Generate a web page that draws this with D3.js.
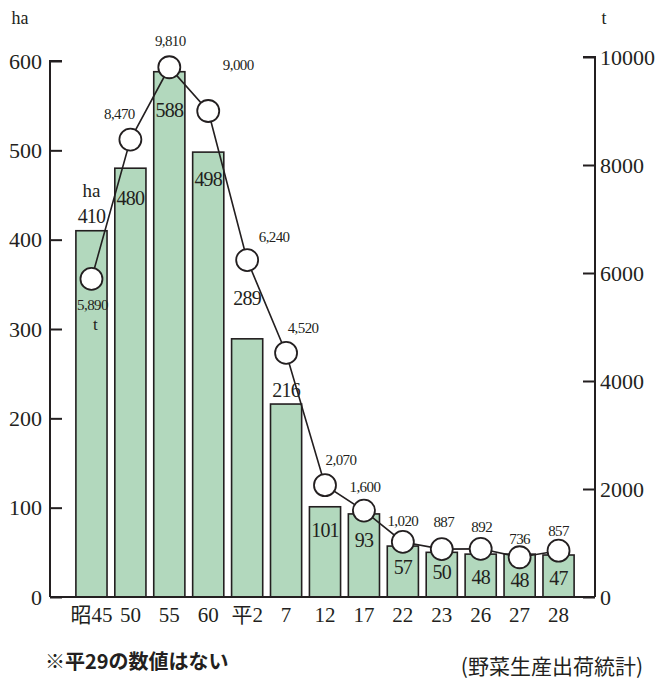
<!DOCTYPE html>
<html><head><meta charset="utf-8">
<script src="https://cdn.jsdelivr.net/npm/d3@7"></script>
<style>
body{margin:0;background:#fff;}
</style></head>
<body>
<script>
// ---- data ----
const categories = ["昭45","50","55","60","平2","7","12","17","22","23","26","27","28"];
const areaHa = [410,480,588,498,289,216,101,93,57,50,48,48,47];
const shipT = [5890,8470,9810,9000,6240,4520,2070,1600,1020,887,892,736,857];
const shipLabels = ["5,890","8,470","9,810","9,000","6,240","4,520","2,070","1,600","1,020","887","892","736","857"];
const leftTicks = [0,100,200,300,400,500,600];
const rightTicks = [0,2000,4000,6000,8000,10000];

// ---- label placement (layout only) ----
const barLabelDy = [-15,30,38,27,-41,-14,23,26,21,20,23,26,23];
const lineLabelDx = [1,-11,1,30,27,17,16,1,0,2,1,0,0];
const lineLabelDy = [26,-26,-27,-46,-23,-25,-25,-24,-21,-27,-22,-19,-20];

const SERIF = "'Liberation Serif','Times New Roman','DejaVu Serif','Noto Sans CJK JP',serif";
const W=661,H=680;
const svg=d3.select("body").append("svg").attr("width",W).attr("height",H)
  .attr("font-family",SERIF).style("font-family",SERIF);
const txt = (sel)=>sel.attr("font-family",SERIF).style("font-family",SERIF).attr("fill","#231f20");

const x=d3.scaleBand().domain(categories).range([72,578]).paddingInner(0.2).paddingOuter(0.1);
const yL=d3.scaleLinear().domain([0,600]).range([597,61]);
const yR=d3.scaleLinear().domain([0,10000]).range([597,57]);

// bars
svg.append("g").selectAll("rect").data(categories).join("rect")
  .attr("x",d=>x(d)).attr("width",x.bandwidth())
  .attr("y",(d,i)=>yL(areaHa[i])).attr("height",(d,i)=>yL(0)-yL(areaHa[i]))
  .attr("fill","#b2d8bd").attr("stroke","#231f20").attr("stroke-width",1.6);

// baseline
svg.append("line").attr("x1",50).attr("x2",595).attr("y1",yL(0)).attr("y2",yL(0))
  .attr("stroke","#231f20").attr("stroke-width",2);

// left axis
const gL=svg.append("g").attr("transform","translate(50,0)")
  .call(d3.axisRight(yL).tickValues(leftTicks).tickSize(12).tickFormat(""));
gL.select(".domain").attr("d",`M0,${yL(0)}V${yL(600)}H12`).attr("stroke","#231f20").attr("stroke-width",2).attr("fill","none");
gL.selectAll(".tick line").attr("stroke","#231f20").attr("stroke-width",2);
txt(svg.append("g").selectAll("text").data(leftTicks).join("text")
  .attr("x",42).attr("y",d=>yL(d)).attr("dy","0.35em").attr("text-anchor","end")
  .style("font-size","22px").text(d=>d));

// right axis
const gR=svg.append("g").attr("transform","translate(595,0)")
  .call(d3.axisLeft(yR).tickValues(rightTicks).tickSize(12).tickFormat(""));
gR.select(".domain").attr("d",`M0,${yR(0)}V${yR(10000)}H-12`).attr("stroke","#231f20").attr("stroke-width",2).attr("fill","none");
gR.selectAll(".tick line").attr("stroke","#231f20").attr("stroke-width",2);
txt(svg.append("g").selectAll("text").data(rightTicks).join("text")
  .attr("x",600).attr("y",d=>yR(d)).attr("dy","0.35em").attr("text-anchor","start")
  .style("font-size","22px").text(d=>d));

// x labels
txt(svg.append("g").selectAll("text").data(categories).join("text")
  .attr("x",d=>x(d)+x.bandwidth()/2).attr("y",615).attr("dy","0.35em").attr("text-anchor","middle")
  .style("font-size","21px").text(d=>d));

// units
txt(svg.append("text").attr("x",20).attr("y",18).attr("dy","0.35em").attr("text-anchor","middle").style("font-size","18px").text("ha"));
txt(svg.append("text").attr("x",604).attr("y",18).attr("dy","0.35em").attr("text-anchor","middle").style("font-size","18px").text("t"));

// bar labels
txt(svg.append("g").selectAll("text").data(areaHa).join("text")
  .attr("x",(d,i)=>x(categories[i])+x.bandwidth()/2)
  .attr("y",(d,i)=>yL(d)+barLabelDy[i]).attr("dy","0.35em").attr("text-anchor","middle")
  .style("font-size","20px").style("letter-spacing","-0.8px").text(d=>d));
txt(svg.append("text").attr("x",x(categories[0])+x.bandwidth()/2).attr("y",190).attr("dy","0.35em")
  .attr("text-anchor","middle").style("font-size","19px").text("ha"));

// line
const cx=(i)=>x(categories[i])+x.bandwidth()/2;
svg.append("path").datum(shipT)
  .attr("d",d3.line().x((d,i)=>cx(i)).y(d=>yR(d)))
  .attr("fill","none").attr("stroke","#231f20").attr("stroke-width",1.6);
svg.append("g").selectAll("circle").data(shipT).join("circle")
  .attr("cx",(d,i)=>cx(i)).attr("cy",d=>yR(d)).attr("r",11)
  .attr("fill","#fff").attr("stroke","#231f20").attr("stroke-width",1.8);
txt(svg.append("g").selectAll("text").data(shipT).join("text")
  .attr("x",(d,i)=>cx(i)+lineLabelDx[i]).attr("y",(d,i)=>yR(d)+lineLabelDy[i]).attr("dy","0.35em")
  .attr("text-anchor","middle").style("font-size","15px").style("letter-spacing","-0.6px").text((d,i)=>shipLabels[i]));
txt(svg.append("text").attr("x",cx(0)+4).attr("y",yR(shipT[0])+45).attr("dy","0.35em")
  .attr("text-anchor","middle").style("font-size","17px").text("t"));

// footnotes
svg.append("text").attr("x",45).attr("y",662).attr("dy","0.35em").attr("fill","#231f20")
  .style("font-family","'Noto Sans CJK JP',sans-serif").style("font-weight","bold").style("font-size","20px")
  .text("※平29の数値はない");
svg.append("text").attr("x",643).attr("y",667).attr("dy","0.35em").attr("text-anchor","end").attr("fill","#231f20")
  .style("font-family","'Noto Sans CJK JP',serif").style("font-size","21px")
  .text("(野菜生産出荷統計)");
</script>
</body></html>
